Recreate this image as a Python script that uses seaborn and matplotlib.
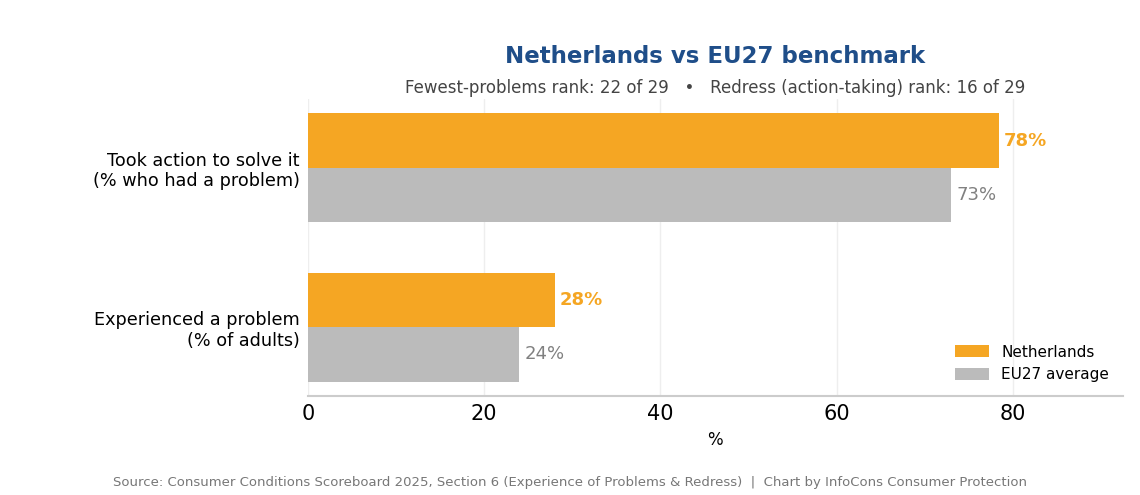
import pandas as pd
import matplotlib
matplotlib.use("Agg")
import matplotlib.pyplot as plt
import seaborn as sns

# data
categories = ["Took action to solve it\n(% who had a problem)",
              "Experienced a problem\n(% of adults)"]
netherlands = [78.4, 28]
eu27 = [73, 24]
series_names = ["Netherlands", "EU27 average"]
colors = ["#F5A623", "#BBBBBB"]

df = pd.DataFrame({
    "category": categories * 2,
    "value": netherlands + eu27,
    "series": [series_names[0]] * 2 + [series_names[1]] * 2,
})

sns.set_style("whitegrid")
plt.rcParams["font.family"] = ["DejaVu Sans"]

fig, ax = plt.subplots(figsize=(11.4, 4.95), dpi=100)
fig.subplots_adjust(left=0.270, right=0.985, top=0.800, bottom=0.200)

sns.barplot(data=df, x="value", y="category", hue="series", order=categories,
            hue_order=series_names, palette=colors, width=0.68, orient="h",
            saturation=1, linewidth=0, ax=ax)

# value labels
for container, col, weight in zip(ax.containers, ["#F5A623", "#808080"], ["bold", "normal"]):
    for bar in container:
        w = bar.get_width()
        ax.text(w + 0.6, bar.get_y() + bar.get_height() / 2, f"{w:.0f}%",
                va="center", ha="left", fontsize=13, color=col, fontweight=weight)

ax.set_xlim(0, 92.5)
ax.set_ylim(1.43, -0.43)
ax.set_xticks([0, 20, 40, 60, 80])
ax.tick_params(axis="x", labelsize=15, length=0, pad=6, labelcolor="black")
ax.tick_params(axis="y", labelsize=12.7, length=0, pad=6, labelcolor="black")
ax.set_xlabel("%", fontsize=12, labelpad=5, color="black")
ax.set_ylabel("")
ax.grid(axis="x", color="#EEEEEE", linewidth=1)
ax.grid(axis="y", visible=False)
for s in ["top", "right", "left"]:
    ax.spines[s].set_visible(False)
ax.spines["bottom"].set_color("#CCCCCC")
ax.spines["bottom"].set_linewidth(1.5)

leg = ax.legend(loc="lower right", frameon=False, fontsize=11, title=None,
                handlelength=2.2, handleheight=0.8)
for t in leg.get_texts():
    t.set_color("black")

fig.text(0.627, 0.886, "Netherlands vs EU27 benchmark", ha="center", va="center",
         fontsize=16.5, fontweight="bold", color="#1F4E89")
fig.text(0.627, 0.823, "Fewest-problems rank: 22 of 29   \u2022   Redress (action-taking) rank: 16 of 29",
         ha="center", va="center", fontsize=12, color="#444444")
fig.text(0.5, 0.026, "Source: Consumer Conditions Scoreboard 2025, Section 6 (Experience of Problems & Redress)  |  Chart by InfoCons Consumer Protection",
         ha="center", va="center", fontsize=9.5, color="#777777")

fig.savefig("out.png", dpi=100)
